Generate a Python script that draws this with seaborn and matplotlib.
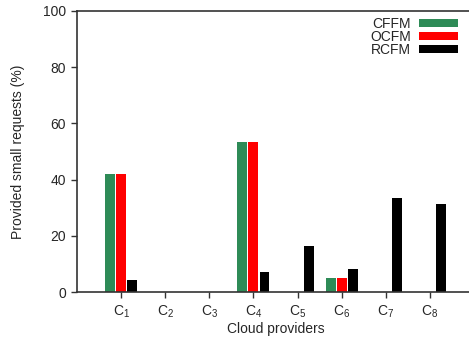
import pandas as pd
import seaborn as sns
import matplotlib.pyplot as plt

# data
providers = ["C1", "C2", "C3", "C4", "C5", "C6", "C7", "C8"]
tick_labels = [f"C$_{{{i}}}$" for i in range(1, 9)]
cffm = [42.0, 0, 0, 53.4, 0, 5.0, 0, 0]
ocfm = [42.0, 0, 0, 53.4, 0, 5.0, 0, 0]
rcfm = [4.3, 0, 0, 7.1, 16.4, 8.2, 33.5, 31.3]
methods = ["CFFM", "OCFM", "RCFM"]
colors = ["#2E8B57", "#FF0000", "#000000"]

sns.set_theme(style="ticks")
plt.rcParams["font.family"] = ["Liberation Sans", "DejaVu Sans"]
plt.rcParams["mathtext.default"] = "regular"
plt.rcParams["mathtext.fontset"] = "custom"
plt.rcParams["mathtext.rm"] = "Liberation Sans"

df = pd.DataFrame({
    "provider": providers * 3,
    "method": [m for m in methods for _ in providers],
    "value": cffm + ocfm + rcfm,
})

fig = plt.figure(figsize=(4.69, 3.39), dpi=100)
ax = fig.add_axes([0.1642, 0.1386, 0.8465, 0.829])

sns.barplot(data=df, x="provider", y="value", hue="method",
            palette=colors, width=0.75, gap=0.1, saturation=1,
            edgecolor="none", ax=ax)

ax.set_xlim(-1, 8)
ax.set_ylim(0, 100)
ax.set_yticks([0, 20, 40, 60, 80, 100])
ax.set_xticks(range(8))
ax.set_xticklabels(tick_labels)
ax.tick_params(labelsize=10, length=4, width=1, color="#333333", direction="out", pad=4)
for s in ax.spines.values():
    s.set_color("#333333")
    s.set_linewidth(1.2)

ax.set_xlabel("Cloud providers", fontsize=10, labelpad=2)
ax.set_ylabel("Provided small requests (%)", fontsize=10, labelpad=13)

handles, labels = ax.get_legend_handles_labels()
ax.legend(handles, labels, loc="upper right", bbox_to_anchor=(0.9845, 1.012),
          markerfirst=False, frameon=False, fontsize=10,
          handlelength=2.8, handleheight=0.5, handletextpad=0.6,
          labelspacing=-0.08, borderpad=0.2)

fig.savefig("out.png", dpi=100)
